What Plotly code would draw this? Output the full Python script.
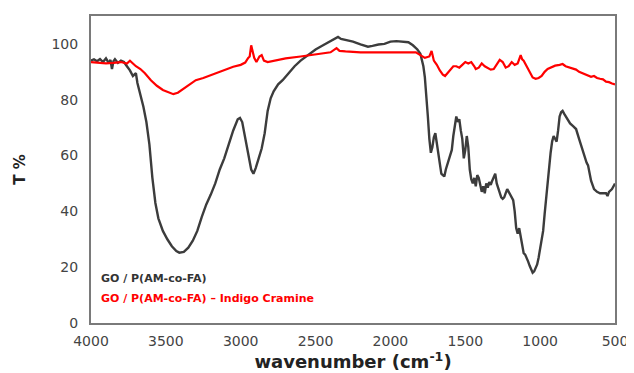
import plotly.graph_objects as go

# GO / P(AM-co-FA) (black)
wn_black = [4000, 3980, 3960, 3940, 3920, 3900, 3880, 3870, 3860, 3850, 3840, 3820, 3800, 3780, 3760, 3740, 3720, 3700,
            3690, 3670, 3650, 3630, 3610, 3590, 3570, 3550, 3520, 3490, 3460, 3430, 3410, 3380, 3350, 3320, 3290, 3260,
            3230, 3200, 3170, 3140, 3110, 3080, 3050, 3020, 3005, 2990, 2970, 2950, 2930, 2915, 2900, 2880, 2860, 2840,
            2820, 2800, 2780, 2750, 2720, 2680, 2640, 2600, 2550, 2500, 2450, 2400, 2370, 2350, 2330, 2300, 2250, 2200,
            2150, 2120, 2080, 2040, 2000, 1960, 1920, 1880, 1850, 1820, 1800, 1780, 1770, 1760, 1750, 1740, 1730, 1720,
            1710, 1700, 1690, 1680, 1670, 1660, 1650, 1640, 1630, 1620, 1610, 1600, 1590, 1580, 1570, 1560, 1550, 1540,
            1530, 1520, 1510, 1500, 1490, 1480, 1470, 1460, 1450, 1440, 1430, 1420, 1410, 1400, 1390, 1380, 1370, 1360,
            1350, 1340, 1330, 1320, 1310, 1300, 1290, 1280, 1270, 1260, 1250, 1240, 1230, 1220, 1210, 1200, 1190, 1180,
            1170, 1160, 1150, 1140, 1130, 1120, 1110, 1100, 1090, 1080, 1070, 1060, 1050, 1040, 1030, 1020, 1010, 1000,
            990, 980, 970, 960, 950, 940, 930, 920, 910, 900, 890, 880, 870, 860, 850, 840, 820, 800, 780, 760, 740, 720,
            700, 690, 680, 670, 660, 650, 640, 620, 600, 580, 560, 550, 540, 520, 510, 500]
t_black = [94.0, 94.5, 93.8, 94.6, 93.5, 94.8, 93.0, 94.3, 91.0, 93.8, 94.5, 93.2, 94.0, 93.5, 92.0, 90.5, 88.5, 89.5,
           86.0, 82.0, 77.5, 72.0, 64.0, 52.0, 43.0, 37.5, 33.0, 30.0, 27.5, 25.8, 25.2, 25.5, 27.0, 29.5, 33.0, 38.0,
           42.5, 46.0, 50.0, 55.0, 59.0, 64.0, 69.0, 73.0, 73.5, 72.0, 66.0, 60.0, 55.0, 53.5, 55.5, 59.0, 62.5, 68.0,
           76.0, 80.5, 83.0, 85.5, 87.0, 89.5, 92.0, 94.0, 96.0, 98.0, 99.5, 101.0, 102.0, 102.5, 101.8, 101.5, 100.8, 99.8,
           99.0, 99.3, 99.8, 100.0, 100.8, 101.0, 100.8, 100.6, 99.5, 98.0, 96.5, 92.0, 88.0, 82.0, 74.0, 66.0, 61.0, 63.0,
           66.5, 68.0, 64.0, 60.0, 56.0, 53.5, 53.0, 52.5, 55.0, 57.0, 58.5, 60.0, 62.0, 67.0, 71.0, 74.0, 72.0, 73.0,
           69.0, 66.0, 59.0, 62.0, 67.0, 63.0, 55.0, 51.5, 50.0, 52.0, 49.0, 53.0, 52.0, 50.0, 47.0, 49.0, 46.5, 50.0,
           48.5, 50.5, 49.5, 51.0, 52.0, 53.5, 50.0, 48.0, 46.0, 45.0, 44.5, 45.0, 46.5, 48.0, 47.0, 46.0, 45.0, 44.0,
           40.0, 34.0, 32.0, 34.0, 31.0, 27.0, 25.0, 24.5, 23.5, 22.0, 20.5, 19.0, 18.0, 18.5, 19.5, 21.0, 23.5, 26.5,
           29.5, 33.0, 39.0, 45.0, 50.0, 55.0, 61.0, 65.0, 67.0, 66.0, 65.0, 69.0, 74.0, 75.5, 76.0, 75.0, 73.0, 71.5, 70.5, 69.5, 66.0, 62.5,
           59.3, 57.5, 56.5, 53.5, 51.0, 49.5, 48.0, 47.0, 46.5, 46.5, 46.5, 45.5, 47.0, 48.0, 49.0, 50.0]

# GO / P(AM-co-FA) – Indigo Cramine (red)
wn_red = [4000, 3950, 3900, 3850, 3800, 3760, 3740, 3720, 3700, 3670, 3640, 3600, 3560, 3520, 3480, 3450, 3420, 3380,
          3340, 3300, 3250, 3200, 3150, 3100, 3050, 3000, 2970, 2950, 2940, 2930, 2920, 2910, 2895, 2875, 2860, 2845,
          2820, 2780, 2700, 2600, 2500, 2400, 2360, 2340, 2300, 2200, 2100, 2000, 1900, 1830, 1800, 1770, 1740, 1725,
          1710, 1690, 1670, 1650, 1635, 1620, 1600, 1580, 1560, 1540, 1520, 1500, 1480, 1460, 1440, 1430, 1410, 1390,
          1370, 1350, 1330, 1310, 1290, 1270, 1250, 1230, 1210, 1190, 1170, 1150, 1130, 1120, 1110, 1090, 1070, 1050,
          1030, 1010, 990, 970, 950, 930, 900, 870, 850, 830, 800, 780, 760, 740, 720, 700, 680, 660, 640, 620, 600,
          580, 560, 540, 520, 500]
t_red = [93.5, 93.3, 93.0, 93.2, 93.5, 93.0, 94.0, 93.0, 92.0, 91.0, 89.5, 87.0, 85.0, 83.5, 82.5, 82.0, 82.5, 84.0,
         85.5, 87.0, 87.8, 88.8, 89.8, 90.8, 91.8, 92.5, 93.3, 95.0, 95.5, 99.5, 97.0, 95.0, 93.5, 95.5, 96.0, 94.0,
         93.5, 94.0, 94.8, 95.5, 96.3, 97.0, 98.5, 97.5, 97.3, 97.0, 97.0, 97.0, 97.0, 97.0, 96.0, 95.0, 95.5, 97.5,
         94.0, 92.5, 90.5, 89.0, 88.5, 89.5, 91.0, 92.0, 92.0, 91.5, 92.5, 93.5, 93.0, 93.5, 92.0, 91.0, 91.5, 93.0,
         92.0, 91.5, 90.8, 91.0, 92.5, 94.3, 93.5, 91.5, 92.0, 93.5, 92.5, 93.0, 96.0, 94.5, 94.0, 92.0, 90.0, 88.0,
         87.5, 87.8, 88.5, 90.0, 91.0, 91.5, 92.2, 92.5, 92.8, 92.0, 91.5, 91.0, 90.8, 90.0, 89.5, 89.0, 88.5, 88.2,
         88.5, 87.8, 87.5, 87.3, 86.5, 86.3, 85.8, 85.5]

x_ticks = [4000, 3500, 3000, 2500, 2000, 1500, 1000, 500]
y_ticks = [0, 20, 40, 60, 80, 100]

FONT = "DejaVu Sans, Verdana, sans-serif"

fig = go.Figure()
fig.add_trace(go.Scatter(x=wn_black, y=t_black, mode="lines", name="GO / P(AM-co-FA)",
                         line=dict(color="#3c3c3c", width=2.4)))
fig.add_trace(go.Scatter(x=wn_red, y=t_red, mode="lines", name="GO / P(AM-co-FA) – Indigo Cramine",
                         line=dict(color="#ff0000", width=2.2)))

axis_common = dict(showgrid=False, zeroline=False, showline=True, linecolor="#7a7a7a", linewidth=2,
                   mirror=True, ticks="", tickfont=dict(family=FONT, size=14, color="#444444"))

# page body keeps its default 8px margin, so the figure is sized to fit inside it
fig.update_layout(
    width=626, height=365,
    margin=dict(l=83, r=17, t=6, b=49),
    paper_bgcolor="white", plot_bgcolor="white",
    showlegend=False,
    xaxis=dict(range=[4000, 500], tickvals=x_ticks, ticktext=[str(v) for v in x_ticks],
               ticklabelstandoff=4,
               title=dict(text="<b>wavenumber (cm<sup>-1</sup>)</b>", font=dict(family=FONT, size=18, color="#222222"),
                          standoff=6),
               **axis_common),
    yaxis=dict(range=[0, 110], tickvals=y_ticks, ticktext=[str(v) for v in y_ticks],
               ticklabelstandoff=8,
               title=dict(text="<b>T %</b>", font=dict(family=FONT, size=15, color="#222222"), standoff=22),
               **axis_common),
    annotations=[
        dict(text="<b>GO / P(AM-co-FA)</b>", xref="paper", yref="paper", x=0.015, y=0.145,
             xanchor="left", yanchor="middle", showarrow=False,
             font=dict(family=FONT, size=11, color="#333333")),
        dict(text="<b>GO / P(AM-co-FA) – Indigo Cramine</b>", xref="paper", yref="paper", x=0.015, y=0.081,
             xanchor="left", yanchor="middle", showarrow=False,
             font=dict(family=FONT, size=11, color="#ff0000")),
    ],
)

fig.write_html("out.html",
               config={"displayModeBar": False, "responsive": False},
               post_script="document.documentElement.style.overflow='hidden';")
